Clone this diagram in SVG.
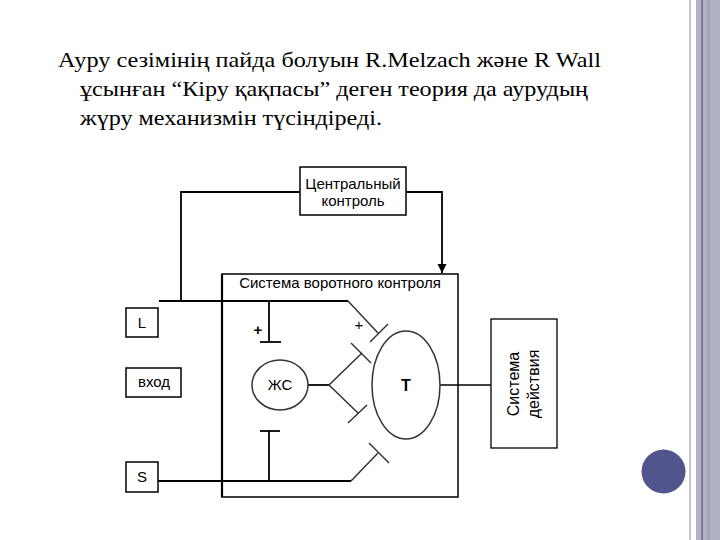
<svg xmlns="http://www.w3.org/2000/svg" width="720" height="540" viewBox="0 0 720 540">
<defs>
<style>
.t{font-family:"Liberation Serif","DejaVu Serif",serif;font-size:22px;fill:#000}
.s{font-family:"Liberation Sans",Arial,sans-serif;font-size:15px;fill:#000;text-anchor:middle}
.box{fill:#fff;stroke:#000;stroke-width:1.5}
.ln{fill:none;stroke:#000;stroke-width:1.8}
.g{fill:none;stroke:#333;stroke-width:1.5}
</style>
<marker id="ah" viewBox="0 0 10 10" refX="10" refY="5" markerWidth="9" markerHeight="14" markerUnits="userSpaceOnUse" orient="auto"><path d="M0,0 L10,5 L0,10 Z" fill="#000"/></marker>
</defs>
<rect width="720" height="540" fill="#fff"/>
<g id="frame">
<rect x="689" y="0" width="2" height="540" fill="#c4c4d2"/>
<rect x="696" y="0" width="24" height="540" fill="#b2b2c6"/>
<rect x="707" y="0" width="3" height="540" fill="#a4a4b8"/>
<rect x="701.5" y="0" width="1.2" height="540" fill="#5a5a7a"/>
<circle cx="663.5" cy="471.5" r="22" fill="#50558e"/>
</g>
<g id="title">
<text class="t" x="58" y="67" textLength="543" lengthAdjust="spacingAndGlyphs">Ауру сезімінің пайда болуын R.Melzach және  R Wall</text>
<text class="t" x="80" y="96" textLength="508" lengthAdjust="spacingAndGlyphs">ұсынған “Кіру қақпасы” деген теория да аурудың</text>
<text class="t" x="80" y="125" textLength="302" lengthAdjust="spacingAndGlyphs">жүру механизмін түсіндіреді.</text>
</g>
<g id="connectors">
<polyline class="ln" points="300,192 181,192 181,301"/>
<polyline class="ln" points="406,192 442,192 442,273" marker-end="url(#ah)"/>
<polyline class="ln" points="159,301 348,301"/>
<polyline class="g" points="348,301 378,333"/>
<line class="g" x1="370" y1="342" x2="388" y2="324"/>
<line class="ln" x1="269" y1="301" x2="269" y2="342"/>
<line class="ln" x1="260" y1="342" x2="281" y2="342"/>
<polyline class="ln" points="158,481 351,481" style="stroke-width:2.2"/>
<polyline class="g" points="351,481 378,453"/>
<line class="g" x1="369" y1="443" x2="389" y2="463"/>
<line class="ln" x1="269" y1="481" x2="269" y2="431"/>
<line class="ln" x1="260" y1="431" x2="280" y2="431"/>
<line class="ln" x1="308" y1="385" x2="329" y2="385"/>
<polyline class="g" points="362,353 329,385 358,413"/>
<line class="g" x1="351" y1="343" x2="371" y2="363"/>
<line class="g" x1="348" y1="423" x2="367" y2="405"/>
<line class="ln" x1="440" y1="385" x2="491" y2="385" style="stroke-width:1.3"/>
</g>
<g id="central">
<rect class="box" x="300" y="167" width="106" height="48"/>
<text class="s" x="353" y="189">Центральный</text>
<text class="s" x="353" y="206">контроль</text>
</g>
<g id="gate">
<rect x="222" y="274" width="236" height="223" fill="none" stroke="#000" stroke-width="1.5"/>
<line x1="222" y1="274" x2="222" y2="497" stroke="#000" stroke-width="2.2"/>
<text class="s" x="340" y="288">Система воротного контроля</text>
<text class="s" x="258" y="335" style="font-size:15px;font-weight:bold">+</text>
<text class="s" x="359" y="330" style="font-size:15px">+</text>
</g>
<g id="L">
<rect class="box" x="126" y="308" width="32" height="29"/>
<text class="s" x="142" y="328">L</text>
</g>
<g id="vhod">
<rect class="box" x="126" y="368" width="55" height="29"/>
<text class="s" x="154" y="387">вход</text>
</g>
<g id="S">
<rect class="box" x="126" y="462" width="32" height="30"/>
<text class="s" x="142" y="482">S</text>
</g>
<g id="zhs">
<ellipse cx="280" cy="385" rx="28" ry="25" fill="#fff" stroke="#333" stroke-width="1.5"/>
<text class="s" x="280" y="390">ЖС</text>
</g>
<g id="T">
<ellipse cx="406" cy="385" rx="34" ry="54" fill="#fff" stroke="#333" stroke-width="1.5"/>
<text class="s" x="406" y="391" style="font-weight:bold;font-size:16px">T</text>
</g>
<g id="action">
<rect class="box" x="491" y="319" width="66" height="129" style="stroke-width:1.3"/>
<text class="s" transform="translate(524,384) rotate(-90)" y="-5" style="font-size:16px">Система</text>
<text class="s" transform="translate(524,384) rotate(-90)" y="15" style="font-size:16px">действия</text>
</g>
</svg>
